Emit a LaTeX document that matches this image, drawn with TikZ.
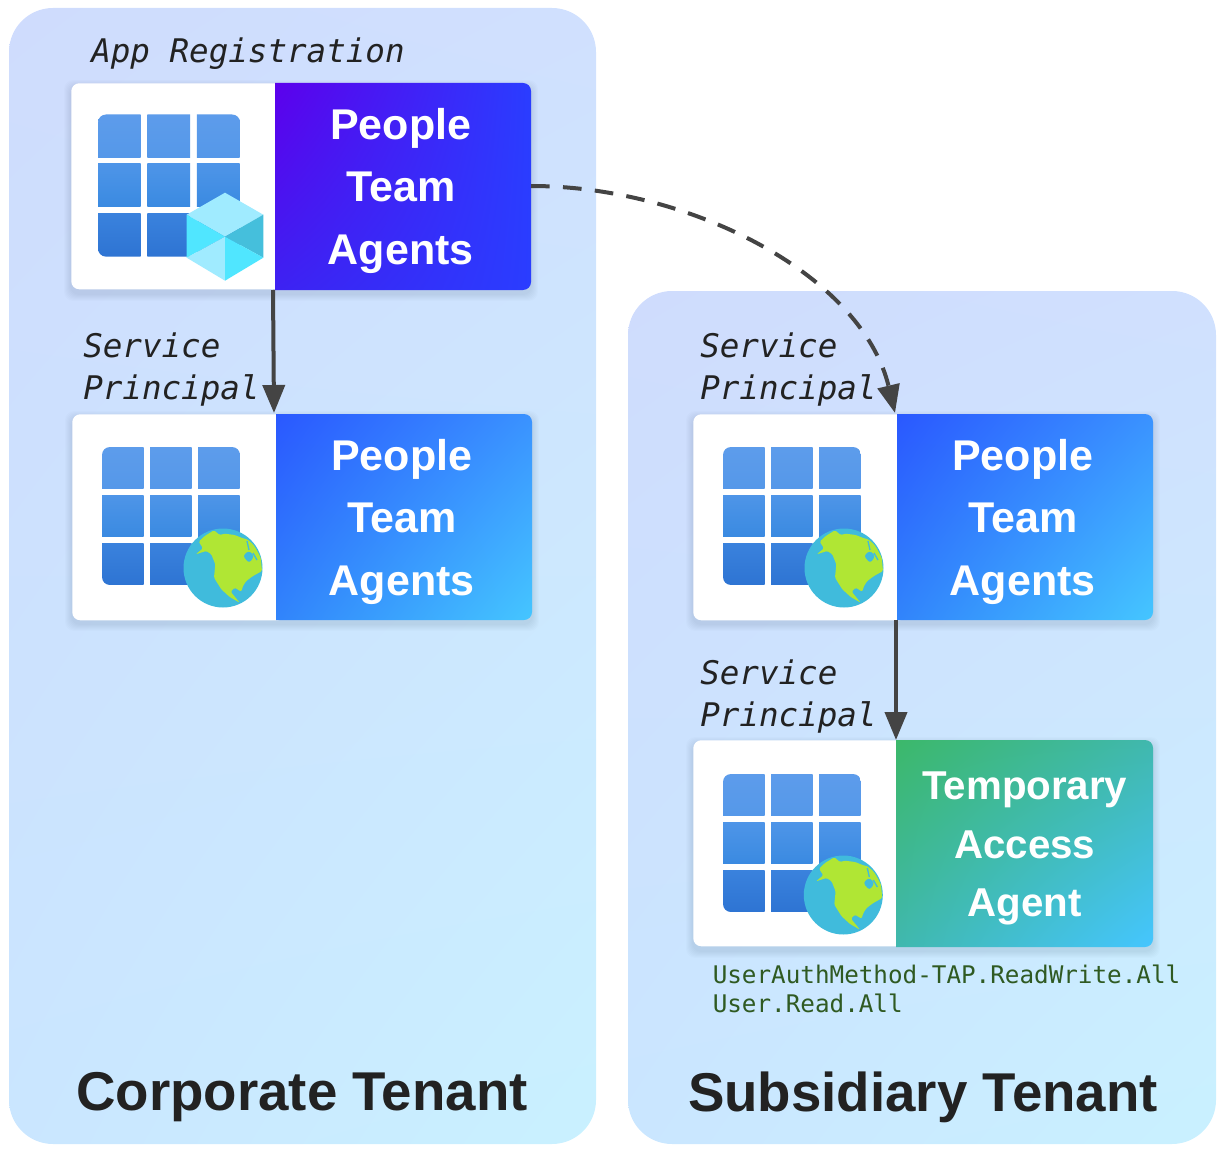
\documentclass[tikz,border=0pt]{standalone}
\usepackage{fontspec}
\setmainfont{Liberation Sans}
\newfontfamily\codefont{DejaVu Sans Mono}
\usetikzlibrary{arrows.meta,shadings}
\definecolor{panelA}{HTML}{CFDCFD}
\definecolor{panelB}{HTML}{D0E0FE}
\definecolor{panelC}{HTML}{CAE6FF}
\definecolor{panelD}{HTML}{C9F1FF}
\definecolor{ink}{HTML}{222222}
\definecolor{linkgray}{HTML}{444444}
\definecolor{scopegreen}{HTML}{2F5A22}
\definecolor{gridA}{HTML}{5D9CEB}
\definecolor{gridB}{HTML}{5598E9}
\definecolor{gridC}{HTML}{4E95E8}
\definecolor{gridD}{HTML}{3A8AE1}
\definecolor{gridE}{HTML}{3A82DD}
\definecolor{gridF}{HTML}{2E74D3}
\definecolor{purpleA}{HTML}{5C00EC}
\definecolor{purpleB}{HTML}{2A3DFF}
\definecolor{purpleC}{HTML}{3D22F2}
\definecolor{blueA}{HTML}{2A58FF}
\definecolor{blueB}{HTML}{3A92FF}
\definecolor{blueC}{HTML}{3184FB}
\definecolor{blueD}{HTML}{45C6FF}
\definecolor{greenA}{HTML}{3CB86A}
\definecolor{greenB}{HTML}{40B8AE}
\definecolor{globesea}{HTML}{40BBDC}
\definecolor{globeland}{HTML}{B0E634}
\definecolor{cubeA}{HTML}{A0EBFF}
\definecolor{cubeB}{HTML}{45BFDC}
\definecolor{cubeC}{HTML}{50E6FF}
\tikzset{
  panel/.style={rounded corners=33pt,upper left=panelA,upper right=panelB,lower left=panelC,lower right=panelD},
  iconbox/.style={fill=white,rounded corners=6pt,inner sep=0pt,anchor=north west,minimum height=206*0.75pt},
  namebox/.style={text=white,font=\fontsize{32.25pt}{46.9pt}\bfseries,align=center,inner sep=0pt,anchor=north west,minimum height=206*0.75pt},
  purpleshade/.style={upper left=purpleA,upper right=purpleB,lower left=purpleC,lower right=purpleB},
  blueshade/.style={upper left=blueA,upper right=blueB,lower left=blueC,lower right=blueD},
  greenshade/.style={upper left=greenA,upper right=greenB,lower left=greenB,lower right=blueD},
  spacelabel/.style={font=\codefont\itshape\fontsize{24.4pt}{30.8pt}\selectfont,text=ink,align=left,anchor=north west,inner sep=0pt},
  tenantlabel/.style={font=\fontsize{41pt}{48pt}\bfseries,text=ink,inner sep=0pt},
  link/.style={draw=linkgray,line width=3pt,-{Triangle[length=21pt,width=16.5pt]}},
  gridicon/.pic={
    \begin{scope}
    \clip[rounded corners=6pt] (0,0) rectangle (138,138);
    \foreach \cy/\ctop/\cbot in {0/gridA/gridB,48/gridC/gridD,96/gridE/gridF}
      \foreach \cx in {0,48,96}
        \shade[top color=\ctop,bottom color=\cbot] (\cx,\cy) rectangle (\cx+41.5,\cy+41.5);
    \end{scope}
  },
  globeicon/.pic={
    \fill[globesea] (0,0) circle (39.5);
    \begin{scope}
    \clip (0,0) circle (39.5);
    \fill[globeland,rounded corners=1pt] (-27.3,-13.7) -- (-20,-19.7) -- (-24.3,-26.3) -- (-18.3,-32) -- (-9,-37.7) -- (-3.3,-33) -- (1.7,-34.3) -- (11.7,-33) -- (20,-29.7) -- (24.3,-28.7) -- (30,-23.7) -- (33.3,-18.7) -- (37.7,-10.3) -- (39,3) -- (30,8) -- (23.3,13) -- (20,18) -- (18.3,23.7) -- (11.7,19.7) -- (7.7,23.7) -- (16.7,34.7) -- (6.7,29) -- (-1.7,21.3) -- (-9,9.7) -- (-7.7,-3.7) -- (-11.7,-13.7) -- (-16.7,-17) -- cycle;
    \fill[globesea,rounded corners=2pt] (20,-12) -- (25,-17) -- (29,-15) -- (31,-11) -- (26,-5) -- cycle;
    \draw[globesea,line width=1pt] (26,-18) -- (24,-27);
    \draw[globesea,line width=1pt] (30,-15) -- (34,-8);
    \end{scope}
  },
  cubeicon/.pic={
    \fill[cubeA] (0,-44) -- (38.3,-22) -- (0,0) -- (-38.3,-22) -- cycle;
    \fill[cubeB] (38.3,-22) -- (38.3,21) -- (0,0) -- cycle;
    \fill[cubeC] (-38.3,-22) -- (0,0) -- (-38.3,21) -- cycle;
    \fill[cubeA] (-38.3,21) -- (0,0) -- (0,44) -- cycle;
    \fill[cubeC] (0,0) -- (38.3,21) -- (0,44) -- cycle;
  },
}
\newcommand{\cardshadow}[4]{
  \foreach \s in {1,...,7}
    \fill[black,opacity=0.01,rounded corners=7pt] (#1-\s,#2-\s+4) rectangle (#3+\s,#4+\s+4);
}
\begin{document}
\begin{tikzpicture}[x=0.75pt,y=0.75pt,yscale=-1,xscale=1]
\useasboundingbox (0,0) rectangle (1225,1152);
%tenants
\shade[panel] (9,8) rectangle (596,1144);
\shade[panel] (628,291) rectangle (1216,1144);
\node[tenantlabel] (corptenant) at (302,1097) {Corporate Tenant};
\node[tenantlabel] (subtenant) at (923,1097) {Subsidiary Tenant};
%app registration
\cardshadow{71}{83}{531}{290}
\node[iconbox,minimum width=214*0.75pt] (regicon) at (71,83) {};
\shade[purpleshade] (275,83) -- (275,290) [rounded corners=6pt] -- (531,290) -- (531,83) [sharp corners] -- cycle;
\node[namebox,minimum width=256*0.75pt] (regname) at (272.5,87.5) {People\\Team\\Agents};
\pic[yscale=-1,scale=1.03] at (98,114.5) {gridicon};
\pic[yscale=-1] at (225,236.7) {cubeicon};
%corporate service principal
\cardshadow{72}{414}{532}{620}
\node[iconbox,minimum width=214*0.75pt] (corpicon) at (72,414) {};
\shade[blueshade] (276,414) -- (276,620) [rounded corners=6pt] -- (532,620) -- (532,414) [sharp corners] -- cycle;
\node[namebox,minimum width=256*0.75pt] (corpname) at (273.5,418.5) {People\\Team\\Agents};
\pic[yscale=-1] at (102,447) {gridicon};
\pic[yscale=-1] at (223,568) {globeicon};
%subsidiary service principal
\cardshadow{693}{414}{1153}{620}
\node[iconbox,minimum width=214*0.75pt] (subicon) at (693,414) {};
\shade[blueshade] (897,414) -- (897,620) [rounded corners=6pt] -- (1153,620) -- (1153,414) [sharp corners] -- cycle;
\node[namebox,minimum width=256*0.75pt] (subname) at (894.5,418.5) {People\\Team\\Agents};
\pic[yscale=-1] at (723,447) {gridicon};
\pic[yscale=-1] at (844,568) {globeicon};
%temporary access agent
\cardshadow{693}{740}{1153}{947}
\node[iconbox,minimum width=213*0.75pt] (tapicon) at (693,740) {};
\shade[greenshade] (896,740) -- (896,947) [rounded corners=6pt] -- (1153,947) -- (1153,740) [sharp corners] -- cycle;
\node[namebox,minimum width=257*0.75pt,font=\fontsize{30.2pt}{43.9pt}\bfseries] (tapname) at (896,745.5) {Temporary\\Access\\Agent};
\pic[yscale=-1] at (723,774) {gridicon};
\pic[yscale=-1] at (843.3,895) {globeicon};
%links
\coordinate (regout) at (273,290);
\coordinate (corpin) at (274,413);
\coordinate (subin) at (895,413);
\coordinate (subout) at (896,620);
\coordinate (tapin) at (896,740);
\coordinate (regedge) at (531,186);
\draw[link] (regout) -- (corpin);
\draw[link] (subout) -- (tapin);
\draw[link,dash pattern=on 14pt off 10pt] (regedge) .. controls (690,186) and (862,275) .. (subin);
%labels
\node[spacelabel] (reglabel) at (91,38) {App Registration};
\node[spacelabel] (corplabel) at (83,333) {Service\\Principal};
\node[spacelabel] (sublabel) at (700,333) {Service\\Principal};
\node[spacelabel] (taplabel) at (700,660) {Service\\Principal};
\node[font=\codefont\fontsize{18.2pt}{21.8pt}\selectfont,text=scopegreen,align=left,anchor=north west,inner sep=0pt] (tapscopes) at (712.5,965) {UserAuthMethod-TAP.ReadWrite.All\\User.Read.All};
\end{tikzpicture}
\end{document}
